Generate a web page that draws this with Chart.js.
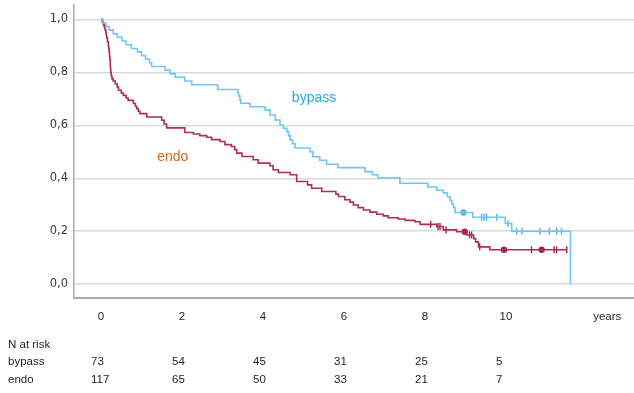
<!DOCTYPE html>
<html lang="en">
  <head>
    <meta charset="UTF-8" />
    <title>km curve</title>
    <script src="https://cdn.jsdelivr.net/npm/chart.js"></script>
    <style>
      html, body { margin: 0; padding: 0; background: #fff; }
      .chart-box { width: 634px; height: 393px; position: relative; }
    </style>
  </head>
  <body>
    <div class="chart-box"><canvas id="kmChart"></canvas></div>
    <script>
      // survival steps (years, survival)
      const bypassT = [0, 0.05, 0.12, 0.2, 0.3, 0.4, 0.52, 0.62, 0.75, 0.9, 1.0, 1.1, 1.2, 1.25, 1.58, 1.7, 1.83, 2.07, 2.24, 2.88, 3.38, 3.4, 3.43, 3.45, 3.68, 4.05, 4.17, 4.3, 4.42, 4.5, 4.59, 4.63, 4.67, 4.73, 4.79, 5.16, 5.23, 5.4, 5.57, 5.85, 6.52, 6.7, 6.84, 7.38, 8.07, 8.29, 8.45, 8.55, 8.62, 8.66, 8.7, 8.74, 9.18, 9.98, 10.14, 11.59];
      const bypassS = [1, 0.986, 0.973, 0.959, 0.945, 0.932, 0.918, 0.904, 0.89, 0.877, 0.863, 0.849, 0.836, 0.822, 0.808, 0.795, 0.781, 0.767, 0.753, 0.735, 0.722, 0.71, 0.697, 0.683, 0.67, 0.658, 0.639, 0.62, 0.601, 0.589, 0.576, 0.561, 0.545, 0.53, 0.514, 0.5, 0.481, 0.468, 0.453, 0.44, 0.425, 0.413, 0.402, 0.381, 0.367, 0.355, 0.345, 0.33, 0.316, 0.303, 0.29, 0.271, 0.253, 0.229, 0.2, 0];

      const endoT = [0, 0.03, 0.06, 0.08, 0.1, 0.12, 0.13, 0.14, 0.16, 0.18, 0.19, 0.2, 0.21, 0.22, 0.23, 0.24, 0.25, 0.27, 0.3, 0.35, 0.4, 0.43, 0.5, 0.55, 0.62, 0.67, 0.8, 0.85, 0.88, 0.92, 0.96, 1.13, 1.5, 1.56, 1.62, 2.07, 2.28, 2.44, 2.61, 2.73, 2.94, 3.06, 3.22, 3.3, 3.35, 3.48, 3.76, 3.88, 4.17, 4.25, 4.38, 4.67, 4.83, 5.1, 5.2, 5.45, 5.8, 5.86, 6.02, 6.15, 6.23, 6.35, 6.48, 6.64, 6.81, 6.97, 7.09, 7.34, 7.51, 7.75, 7.88, 8.29, 8.45, 8.78, 9.03, 9.2, 9.25, 9.32, 9.6, 11.5];
      const endoS = [1, 0.99, 0.98, 0.97, 0.96, 0.95, 0.94, 0.93, 0.915, 0.9, 0.89, 0.877, 0.86, 0.845, 0.815, 0.8, 0.786, 0.776, 0.767, 0.757, 0.745, 0.732, 0.722, 0.713, 0.703, 0.694, 0.682, 0.672, 0.663, 0.653, 0.644, 0.631, 0.619, 0.605, 0.59, 0.573, 0.567, 0.561, 0.555, 0.546, 0.539, 0.527, 0.52, 0.508, 0.495, 0.482, 0.47, 0.457, 0.447, 0.432, 0.422, 0.413, 0.388, 0.375, 0.362, 0.35, 0.34, 0.331, 0.319, 0.31, 0.299, 0.289, 0.28, 0.272, 0.264, 0.258, 0.251, 0.246, 0.241, 0.236, 0.226, 0.218, 0.205, 0.198, 0.186, 0.172, 0.16, 0.141, 0.13, 0.13];

      // censored cases
      const bypassCensor = [8.95, 9.4, 9.46, 9.52, 9.77, 10.05, 10.26, 10.39, 10.84, 11.07, 11.25, 11.37];
      const endoCensor = [8.14, 8.32, 8.37, 8.52, 8.98, 9.1, 9.15, 9.35, 9.95, 10.63, 10.88, 11.19, 11.25, 11.5];
      const bypassCluster = [8.95];
      const endoCluster = [8.98, 9.95, 10.88];

      // number at risk table
      const riskTimes = [0, 2, 4, 6, 8, 10];
      const bypassRisk = [73, 54, 45, 31, 25, 5];
      const endoRisk = [117, 65, 50, 33, 21, 7];
      const yearTicks = [0, 2, 4, 6, 8, 10];

      const blueLine = "#6fc6f4";
      const redLine = "#b02c5a";

      const toPoints = (ts, ss) => ts.map((t, i) => ({ x: t, y: ss[i] }));

      // survival value at time t (last step at or before t)
      const stepAt = (ts, ss, t) => {
        let v = ss[0];
        for (let i = 0; i < ts.length; i++) {
          if (ts[i] <= t) v = ss[i];
        }
        return v;
      };
      const censorPoints = (cens, ts, ss) => cens.map((t) => ({ x: t, y: stepAt(ts, ss, t) }));

      const riskTable = {
        id: "riskTable",
        afterDraw(chart) {
          const { ctx } = chart;
          const x = chart.scales.x;
          const y = chart.scales.y;
          ctx.save();
          ctx.font = '11.5px "Liberation Sans"';
          ctx.fillStyle = "#1e1e1e";
          ctx.textBaseline = "middle";
          ctx.textAlign = "left";
          ctx.fillText("N at risk", 8, 345);
          ctx.fillText("bypass", 8, 362);
          ctx.fillText("endo", 8, 380);
          riskTimes.forEach((t, i) => {
            const px = x.getPixelForValue(t) - 10;
            ctx.fillText(String(bypassRisk[i]), px, 362);
            ctx.fillText(String(endoRisk[i]), px, 380);
          });

          // group labels inside the plot
          ctx.font = '14px "Liberation Sans"';
          ctx.textAlign = "center";
          ctx.fillStyle = "#26aae6";
          ctx.fillText("bypass", x.getPixelForValue(5.26), y.getPixelForValue(0.703));
          ctx.fillStyle = "#cf6a26";
          ctx.fillText("endo", x.getPixelForValue(1.77), y.getPixelForValue(0.48));
          ctx.restore();
        },
      };

      const ctx = document.getElementById("kmChart").getContext("2d");

      const kmChart = new Chart(ctx, {
        type: "line",
        data: {
          datasets: [
            {
              label: "bypass",
              data: toPoints(bypassT, bypassS),
              borderColor: blueLine,
              borderWidth: 1.6,
              stepped: "before",
              pointRadius: 0,
              fill: false,
            },
            {
              label: "endo",
              data: toPoints(endoT, endoS),
              borderColor: redLine,
              borderWidth: 1.6,
              stepped: "before",
              pointRadius: 0,
              fill: false,
            },
            {
              label: "bypass censored",
              data: censorPoints(bypassCensor, bypassT, bypassS),
              showLine: false,
              borderColor: "#4bb4ee",
              backgroundColor: "#4bb4ee",
              borderWidth: 1.4,
              pointStyle: (c) => (bypassCluster.includes(bypassCensor[c.dataIndex]) ? "circle" : "line"),
              rotation: 90,
              pointRadius: (c) => (bypassCluster.includes(bypassCensor[c.dataIndex]) ? 2.5 : 3.5),
            },
            {
              label: "endo censored",
              data: censorPoints(endoCensor, endoT, endoS),
              showLine: false,
              borderColor: "#a3234f",
              backgroundColor: "#a3234f",
              borderWidth: 1.4,
              pointStyle: (c) => (endoCluster.includes(endoCensor[c.dataIndex]) ? "circle" : "line"),
              rotation: 90,
              pointRadius: (c) => (endoCluster.includes(endoCensor[c.dataIndex]) ? 2.5 : 3.5),
            },
          ],
        },
        options: {
          responsive: true,
          maintainAspectRatio: false,
          animation: false,
          layout: { autoPadding: false, padding: { top: 5, left: 0, right: 0, bottom: 0 } },
          plugins: {
            legend: { display: false },
            tooltip: { enabled: false },
          },
          scales: {
            x: {
              type: "linear",
              min: -0.667,
              max: 13.16,
              grid: { display: false, drawTicks: false },
              border: { display: true, color: "#ababab", width: 2 },
              afterBuildTicks: (scale) => {
                scale.ticks = yearTicks.concat([12.5]).map((v) => ({ value: v }));
              },
              afterFit: (scale) => {
                scale.height = 95;
                scale.paddingLeft = 0;
                scale.paddingRight = 0;
              },
              ticks: {
                padding: 12,
                color: "#1e1e1e",
                font: { family: "Liberation Sans", size: 11.5 },
                maxRotation: 0,
                autoSkip: false,
                callback: (v) => (v === 12.5 ? "years" : v),
              },
            },
            y: {
              type: "linear",
              min: -0.052,
              max: 1.054,
              grid: { color: "#dadada", lineWidth: 1.5, drawTicks: false },
              border: { display: true, color: "#ababab", width: 1.5 },
              afterBuildTicks: (scale) => {
                scale.ticks = [0, 0.2, 0.4, 0.6, 0.8, 1.0].map((v) => ({ value: v }));
              },
              afterFit: (scale) => {
                scale.width = 74;
                scale.paddingTop = 0;
                scale.paddingBottom = 0;
              },
              ticks: {
                padding: 6,
                color: "#3a3a3a",
                font: { family: "DejaVu Sans", size: 11.5 },
                callback: (v) => v.toFixed(1).replace(".", ","),
              },
            },
          },
        },
        plugins: [riskTable],
      });
    </script>
  </body>
</html>
